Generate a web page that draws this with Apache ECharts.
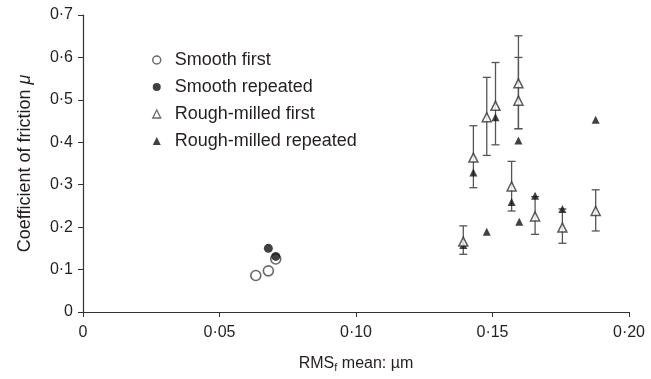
<!DOCTYPE html>
<html><head><meta charset="utf-8">
<script src="https://cdn.jsdelivr.net/npm/echarts@6/dist/echarts.min.js"></script>
<style>html,body{margin:0;padding:0;background:#fff}#c{width:651px;height:379px}</style>
</head><body><div id="c"></div>
<script>
var xTicks = [0, 0.05, 0.10, 0.15, 0.20];
var yTicks = [0, 0.1, 0.2, 0.3, 0.4, 0.5, 0.6, 0.7];

var smoothFirst = [[0.0633, 0.086], [0.0679, 0.097], [0.0706, 0.125]];
var smoothRepeated = [[0.0679, 0.150], [0.0706, 0.131]];
var roughFirst = [[0.1393, 0.166], [0.1430, 0.364], [0.1479, 0.459], [0.1511, 0.486], [0.1595, 0.539], [0.1595, 0.498], [0.1570, 0.296], [0.1656, 0.225], [0.1756, 0.199], [0.1878, 0.238]];
var roughFirstErr = [[0.1393, 0.136, 0.203], [0.1430, 0.293, 0.439], [0.1479, 0.369, 0.553], [0.1511, 0.394, 0.588], [0.1595, 0.432, 0.651], [0.1595, 0.432, 0.600], [0.1570, 0.238, 0.355], [0.1656, 0.183, 0.272], [0.1756, 0.162, 0.243], [0.1878, 0.191, 0.288]];
var roughRepeated = [[0.1393, 0.158], [0.1430, 0.329], [0.1479, 0.189], [0.1511, 0.459], [0.1595, 0.404], [0.1598, 0.213], [0.1570, 0.259], [0.1656, 0.274], [0.1756, 0.243], [0.1878, 0.453]];

var fmtX = function (v) { return v === 0 ? '0' : (Math.round(v * 100) / 100).toFixed(2).replace('.', '·'); };
var fmtY = function (v) { return v === 0 ? '0' : (Math.round(v * 10) / 10).toFixed(1).replace('.', '·'); };

var ink = '#231f20';
var ff = 'Liberation Sans, Arial, sans-serif';
var chart = echarts.init(document.getElementById('c'), null, {renderer: 'canvas'});
chart.setOption({
  animation: false,
  backgroundColor: '#fff',
  textStyle: {fontFamily: ff},
  grid: {left: 83, right: 22, top: 15, bottom: 67, containLabel: false},
  legend: {
    orient: 'vertical', left: 147, top: 45, itemWidth: 8, itemHeight: 8, itemGap: 7,
    textStyle: {fontSize: 18, lineHeight: 20, color: ink, fontFamily: ff, padding: [0, 0, 0, 9]},
    data: [
      {name: 'Smooth first', icon: 'circle', itemStyle: {color: '#fff', borderColor: '#444', borderWidth: 1.5}},
      {name: 'Smooth repeated', icon: 'circle', itemStyle: {color: '#111'}},
      {name: 'Rough-milled first', icon: 'triangle', itemStyle: {color: '#fff', borderColor: '#444', borderWidth: 1.3}},
      {name: 'Rough-milled repeated', icon: 'triangle', itemStyle: {color: '#111'}}
    ]
  },
  xAxis: {
    type: 'value', min: 0, max: 0.2, interval: 0.05,
    splitLine: {show: false},
    axisLine: {lineStyle: {color: '#333', width: 1.2}},
    axisTick: {length: 5, lineStyle: {color: '#333'}},
    axisLabel: {fontSize: 16, color: ink, margin: 13, formatter: fmtX},
    name: '{a|RMS}{s|f}{a| mean: µm}', nameLocation: 'middle', nameGap: 42,
    nameTextStyle: {rich: {
      a: {fontSize: 16, color: ink, fontFamily: ff},
      s: {fontSize: 11, color: ink, padding: [8, 0, 0, 0], fontFamily: ff}
    }}
  },
  yAxis: {
    type: 'value', min: 0, max: 0.7, interval: 0.1,
    splitLine: {show: false},
    axisLine: {lineStyle: {color: '#333', width: 1.2}},
    axisTick: {length: 5, lineStyle: {color: '#333'}},
    axisLabel: {fontSize: 16, color: ink, margin: 10, formatter: fmtY},
    name: '{a|Coefficient of friction }{i|μ}', nameLocation: 'middle', nameGap: 49,
    nameTextStyle: {rich: {
      a: {fontSize: 18, color: ink, fontFamily: ff},
      i: {fontSize: 18, color: ink, fontStyle: 'italic', fontFamily: ff}
    }}
  },
  series: [
    {
      type: 'custom', name: 'err', z: 1, silent: true,
      data: roughFirstErr,
      renderItem: function (params, api) {
        var x = api.value(0);
        var lo = api.coord([x, api.value(1)]);
        var hi = api.coord([x, api.value(2)]);
        var w = 4;
        var st = {stroke: '#555', lineWidth: 1.3};
        return {type: 'group', children: [
          {type: 'line', shape: {x1: lo[0], y1: lo[1], x2: hi[0], y2: hi[1]}, style: st},
          {type: 'line', shape: {x1: lo[0] - w, y1: lo[1], x2: lo[0] + w, y2: lo[1]}, style: st},
          {type: 'line', shape: {x1: hi[0] - w, y1: hi[1], x2: hi[0] + w, y2: hi[1]}, style: st}
        ]};
      }
    },
    {name: 'Smooth first', type: 'scatter', z: 3, symbol: 'circle', symbolSize: 10, data: smoothFirst,
      itemStyle: {color: '#fff', borderColor: '#444', borderWidth: 1.6}},
    {name: 'Smooth repeated', type: 'scatter', z: 4, symbol: 'circle', symbolSize: 9, data: smoothRepeated,
      itemStyle: {color: '#111'}},
    {name: 'Rough-milled repeated', type: 'scatter', z: 3, symbol: 'triangle', symbolSize: 8, data: roughRepeated,
      itemStyle: {color: '#111'}},
    {name: 'Rough-milled first', type: 'scatter', z: 4, symbol: 'triangle', symbolSize: 9, data: roughFirst,
      itemStyle: {color: '#fff', borderColor: '#333', borderWidth: 1.5}}
  ]
});
</script></body></html>
